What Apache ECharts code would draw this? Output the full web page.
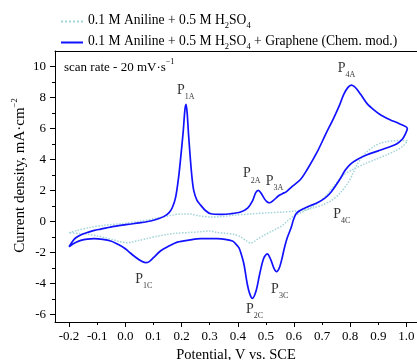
<!DOCTYPE html>
<html>
<head>
<meta charset="utf-8">
<script src="https://cdn.jsdelivr.net/npm/echarts@6/dist/echarts.min.js"></script>
<style>
  html, body { margin: 0; padding: 0; background: #fff; }
  #chart { width: 417px; height: 360px; }
</style>
</head>
<body>
<div id="chart"></div>
<script>
// potential (V vs. SCE) and current density (mA/cm2)
const anilineE = [
  -0.200, -0.170, -0.129, -0.070, -0.010, 0.050, 0.108, 0.167, 0.200, 0.230, 0.265, 0.304,
  0.340, 0.386, 0.450, 0.505, 0.560, 0.600, 0.640, 0.671, 0.700, 0.730, 0.760, 0.789,
  0.810, 0.825, 0.845, 0.860, 0.885, 0.908, 0.930, 0.955, 0.980, 1.003,
  0.990, 0.960, 0.930, 0.890, 0.850, 0.810, 0.777, 0.750, 0.718, 0.690, 0.659, 0.630,
  0.600, 0.575, 0.556, 0.541, 0.520, 0.493, 0.470, 0.455, 0.446, 0.430, 0.410, 0.386,
  0.350, 0.327, 0.300, 0.268, 0.230, 0.179, 0.150, 0.114, 0.080, 0.049, 0.020, 0.008,
  -0.022, -0.045, -0.070, -0.100, -0.129, -0.165, -0.200
];
const anilineJ = [
  -0.74, -0.58, -0.41, -0.24, -0.15, 0.00, 0.19, 0.40, 0.48, 0.47, 0.35, 0.28,
  0.30, 0.40, 0.48, 0.55, 0.60, 0.66, 0.75, 0.88, 1.05, 1.31, 1.75, 2.40,
  3.10, 3.70, 4.20, 4.50, 4.85, 5.05, 5.15, 5.20, 5.22, 5.20,
  4.90, 4.55, 4.30, 4.00, 3.70, 3.35, 3.00, 2.45, 1.74, 1.25, 0.88, 0.60,
  0.35, 0.00, -0.30, -0.45, -0.65, -0.90, -1.15, -1.35, -1.40, -1.25, -1.00, -0.84,
  -0.76, -0.72, -0.62, -0.67, -0.72, -0.77, -0.85, -0.95, -1.10, -1.23, -1.35, -1.38,
  -1.30, -1.18, -1.06, -0.95, -0.84, -0.78, -0.74
];

const grapheneE = [
  -0.200, -0.188, -0.176, -0.155, -0.135, -0.110, -0.087, -0.040, 0.008, 0.050, 0.090, 0.120,
  0.138, 0.155, 0.167, 0.179, 0.190, 0.197, 0.206, 0.212, 0.216, 0.220, 0.225, 0.232,
  0.238, 0.244, 0.255, 0.268, 0.285, 0.304, 0.340, 0.375, 0.410, 0.435, 0.452, 0.464,
  0.473, 0.482, 0.495, 0.505, 0.514, 0.527, 0.545, 0.560, 0.572, 0.590, 0.623, 0.647,
  0.683, 0.712, 0.742, 0.762, 0.777, 0.792, 0.804, 0.815, 0.825, 0.837, 0.860, 0.884,
  0.910, 0.943, 0.975, 1.003,
  0.995, 0.985, 0.965, 0.931, 0.900, 0.860, 0.825, 0.801, 0.782, 0.766, 0.748, 0.730,
  0.710, 0.683, 0.650, 0.623, 0.608, 0.598, 0.590, 0.576, 0.566, 0.558, 0.548, 0.538,
  0.528, 0.518, 0.505, 0.492, 0.478, 0.465, 0.452, 0.443, 0.434, 0.422, 0.412, 0.404,
  0.390, 0.381, 0.355, 0.327, 0.268, 0.230, 0.185, 0.155, 0.126, 0.100, 0.085, 0.072,
  0.055, 0.031, 0.012, -0.005, -0.030, -0.052, -0.080, -0.111, -0.135, -0.158, -0.175, -0.188,
  -0.200
];
const grapheneJ = [
  -1.64, -1.30, -1.06, -0.85, -0.72, -0.58, -0.50, -0.33, -0.20, -0.10, 0.02, 0.18,
  0.32, 0.55, 0.88, 1.55, 2.90, 4.10, 5.80, 7.20, 7.55, 7.00, 5.60, 3.90,
  2.70, 1.95, 1.35, 1.05, 0.70, 0.49, 0.45, 0.49, 0.60, 0.85, 1.30, 1.85,
  2.00, 1.85, 1.45, 1.25, 1.20, 1.35, 1.65, 1.80, 1.90, 2.20, 2.70, 3.35,
  4.50, 5.60, 6.70, 7.50, 8.20, 8.65, 8.80, 8.70, 8.50, 8.20, 7.60, 7.20,
  6.85, 6.55, 6.30, 6.00,
  5.60, 5.30, 5.00, 4.75, 4.55, 4.30, 4.00, 3.70, 3.30, 2.80, 2.30, 1.85,
  1.50, 1.20, 0.95, 0.72, 0.50, 0.10, -0.40, -1.06, -1.70, -2.35, -3.00, -3.25,
  -3.00, -2.50, -2.10, -2.40, -3.40, -4.50, -4.97, -4.70, -4.06, -2.77, -2.10, -1.70,
  -1.40, -1.27, -1.16, -1.12, -1.12, -1.20, -1.34, -1.60, -1.90, -2.35, -2.60, -2.67,
  -2.55, -2.24, -1.95, -1.70, -1.45, -1.27, -1.17, -1.12, -1.15, -1.23, -1.35, -1.48,
  -1.64
];

const xLabels = ['-0.2', '-0.1', '0.0', '0.1', '0.2', '0.3', '0.4', '0.5', '0.6', '0.7', '0.8', '0.9', '1.0'];
const xMajor = [-0.2, 0, 0.2, 0.4, 0.6, 0.8, 1.0];
const xMinor = [-0.1, 0.1, 0.3, 0.5, 0.7, 0.9];
const yLabels = [-6, -4, -2, 0, 2, 4, 6, 8, 10];
const yMinor = [-5, -3, -1, 1, 3, 5, 7, 9];

// peak names and where their labels sit (data units)
const peakNames = ['1A', '2A', '3A', '4A', '1C', '2C', '3C', '4C'];
const peakE = [0.215, 0.450, 0.531, 0.787, 0.066, 0.460, 0.549, 0.770];
const peakJ = [8.35, 2.95, 2.45, 9.75, -3.85, -5.8, -4.5, 0.35];

const seriesNames = ['0.1 M Aniline + 0.5 M H2SO4', '0.1 M Aniline + 0.5 M H2SO4 + Graphene (Chem. mod.)'];

const FONT = 'Liberation Serif';
const xMin = -0.25, xMax = 1.0375, yMin = -6.5, yMax = 11;

const zip = (a, b) => a.map((v, i) => [v, b[i]]);

const chart = echarts.init(document.getElementById('chart'));

const axisBase = (min, max) => ({
  type: 'value', min, max, splitLine: { show: false },
  axisLine: { show: false, onZero: false }, axisTick: { show: false }, axisLabel: { show: false }
});

const option = {
  animation: false,
  grid: { left: 55, right: 0, top: 51, bottom: 38, outerBoundsMode: 'none' },
  legend: {
    data: seriesNames,
    orient: 'vertical',
    left: 55,
    top: 8,
    itemWidth: 22,
    itemHeight: 10,
    itemGap: 4,
    itemStyle: { opacity: 0 },
    formatter: (name) => '{t|' + name.replace('H2SO4', 'H}{s|2}{t|SO}{s|4}{t|') + '}',
    textStyle: {
      fontFamily: FONT, color: '#000',
      rich: {
        t: { fontFamily: FONT, fontSize: 13.6, color: '#000', verticalAlign: 'bottom', padding: [0, 0, 3, 0] },
        s: { fontFamily: FONT, fontSize: 8.5, color: '#000', verticalAlign: 'bottom' }
      }
    }
  },
  graphic: [{
    type: 'text', left: 64, top: 58,
    style: {
      text: '{t|scan rate - 20 mV·s}{s|−1}',
      rich: {
        t: { fontFamily: FONT, fontSize: 13, fill: '#000', verticalAlign: 'top', padding: [3, 0, 0, 0] },
        s: { fontFamily: FONT, fontSize: 8, fill: '#000', verticalAlign: 'top' }
      }
    }
  }],
  xAxis: [
    Object.assign(axisBase(xMin, xMax), {
      position: 'bottom',
      axisLine: { show: true, onZero: false, lineStyle: { color: '#000', width: 1 } },
      axisTick: { show: true, customValues: xMajor, length: 5, lineStyle: { color: '#000' } },
      axisLabel: {
        show: true, customValues: xLabels.map(Number), margin: 8,
        formatter: (v) => v.toFixed(1),
        fontFamily: FONT, fontSize: 13, color: '#000'
      },
      name: 'Potential, V vs. SCE',
      nameLocation: 'middle',
      nameGap: 25,
      nameTextStyle: { fontFamily: FONT, fontSize: 14.5, color: '#000' }
    }),
    Object.assign(axisBase(xMin, xMax), {
      position: 'bottom',
      axisTick: { show: true, customValues: xMinor, length: 3, lineStyle: { color: '#000' } }
    }),
    Object.assign(axisBase(xMin, xMax), {
      position: 'top',
      axisLine: { show: true, onZero: false, lineStyle: { color: '#000', width: 1 } }
    })
  ],
  yAxis: [
    Object.assign(axisBase(yMin, yMax), {
      position: 'left',
      axisLine: { show: true, onZero: false, lineStyle: { color: '#000', width: 1 } },
      axisTick: { show: true, customValues: yLabels, length: 5, lineStyle: { color: '#000' } },
      axisLabel: {
        show: true, customValues: yLabels, margin: 9,
        formatter: (v) => String(v),
        fontFamily: FONT, fontSize: 13, color: '#000'
      },
      name: '{t|Current density, mA·cm}{s|−2}',
      nameLocation: 'middle',
      nameRotate: 90,
      nameGap: 27,
      nameMoveOverlap: false,
      nameTextStyle: {
        fontFamily: FONT, color: '#000', padding: [0, 0, 0, 22],
        rich: {
          t: { fontFamily: FONT, fontSize: 15, color: '#000', verticalAlign: 'top', padding: [3, 0, 0, 0] },
          s: { fontFamily: FONT, fontSize: 8.5, color: '#000', verticalAlign: 'top' }
        }
      }
    }),
    Object.assign(axisBase(yMin, yMax), {
      position: 'left',
      axisTick: { show: true, customValues: yMinor, length: 3, lineStyle: { color: '#000' } }
    })
  ],
  series: [
    {
      name: seriesNames[0],
      type: 'line',
      xAxisIndex: 0, yAxisIndex: 0,
      data: zip(anilineE, anilineJ),
      symbol: 'none',
      smooth: 0.3,
      lineStyle: { color: '#a3d5d8', width: 1.5, type: 'dotted' },
      itemStyle: { color: '#a3d5d8' },
      z: 2
    },
    {
      name: seriesNames[1],
      type: 'line',
      xAxisIndex: 0, yAxisIndex: 0,
      data: zip(grapheneE, grapheneJ),
      symbol: 'none',
      smooth: 0.3,
      lineStyle: { color: '#1212ff', width: 1.7 },
      itemStyle: { color: '#1212ff' },
      z: 3
    },
    {
      name: 'peaks',
      type: 'scatter',
      xAxisIndex: 0, yAxisIndex: 0,
      symbolSize: 0,
      silent: true,
      data: peakNames.map((n, i) => ({ name: n, value: [peakE[i], peakJ[i]] })),
      label: {
        show: true,
        position: 'inside',
        formatter: (p) => '{p|P}{s|' + p.name + '}',
        rich: {
          p: { fontFamily: FONT, fontSize: 14, color: '#000', verticalAlign: 'bottom', padding: [0, 0, 4, 0] },
          s: { fontFamily: FONT, fontSize: 8, color: '#000', verticalAlign: 'bottom' }
        }
      },
      z: 4
    }
  ]
};

chart.setOption(option);
</script>
</body>
</html>
